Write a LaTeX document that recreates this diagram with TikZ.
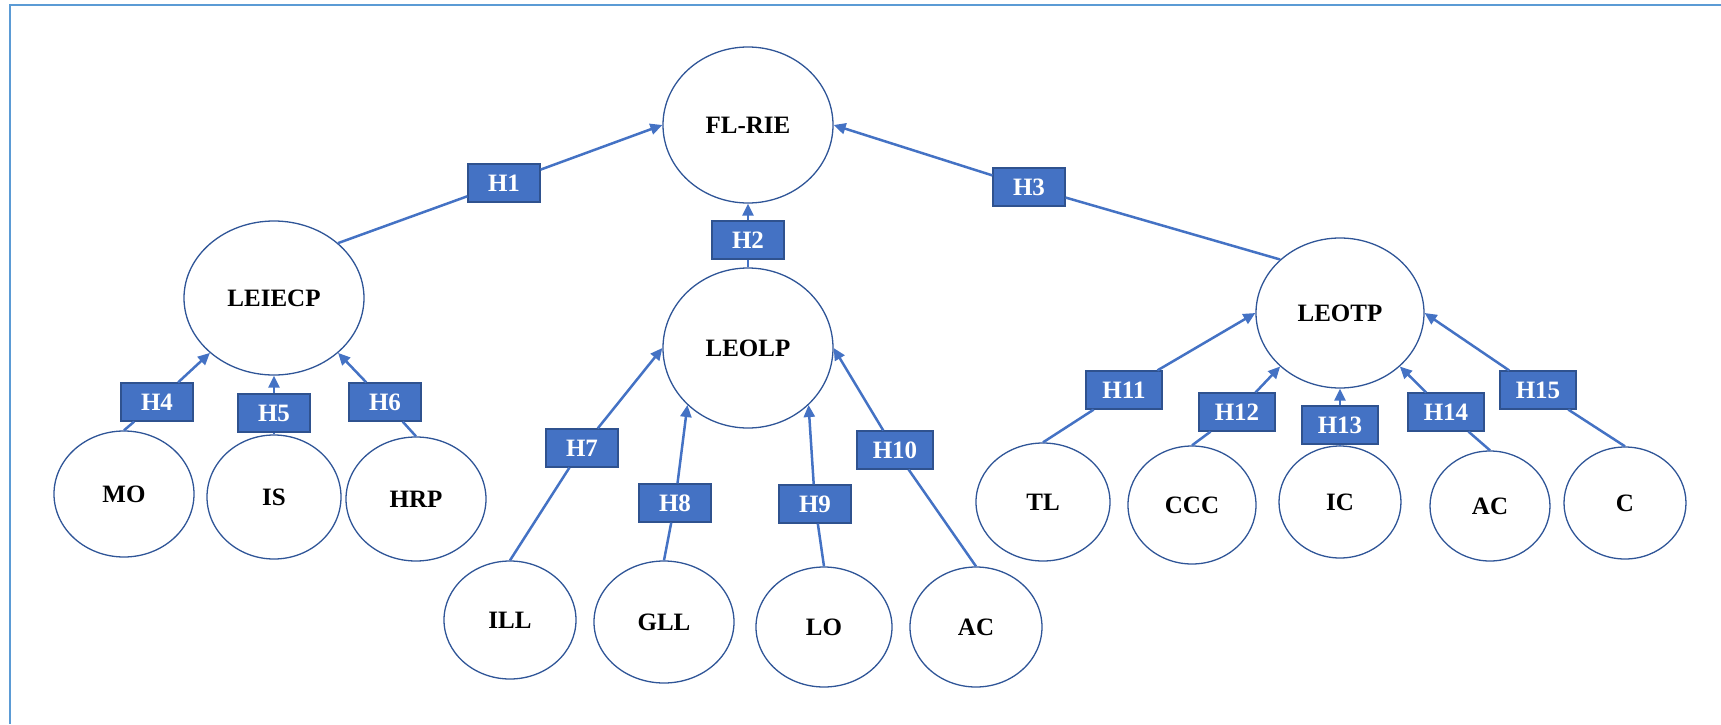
\documentclass[tikz,border=0pt]{standalone}
\usepackage{fontspec}
\setmainfont{Liberation Serif}
\usetikzlibrary{shapes.geometric,arrows.meta}
\definecolor{edgeblue}{HTML}{4472C4}
\definecolor{ringblue}{HTML}{2F5597}
\definecolor{boxline}{HTML}{2F528F}
\definecolor{frameblue}{HTML}{5B9BD5}
\begin{document}
\begin{tikzpicture}[x=0.5pt,y=-0.5pt,
  var/.style={ellipse,draw=ringblue,line width=0.65pt,inner sep=0pt,font=\fontsize{12.5}{14}\selectfont\bfseries},
  hyp/.style={rectangle,draw=boxline,line width=0.6pt,fill=edgeblue,text=white,inner sep=0pt,minimum height=19pt,minimum width=36pt,font=\fontsize{12.5}{14}\selectfont\bfseries},
  hypw/.style={hyp,minimum width=38pt},
  link/.style={draw=edgeblue,line width=1.25pt},
  arr/.style={link,-{Triangle[length=6pt,width=5.5pt]}}]
\useasboundingbox (0,0) rectangle (1721,724);
\draw[frameblue,line width=1pt] (1721,5) -- (10,5) -- (10,724);

% variables
\node[var,minimum width=85pt,minimum height=78pt] (fl) at (748,125) {FL-RIE};
\node[var,minimum width=90pt,minimum height=77pt] (leiecp) at (274,298) {LEIECP};
\node[var,minimum width=85pt,minimum height=80pt] (leolp) at (748,348) {LEOLP};
\node[var,minimum width=84pt,minimum height=75pt] (leotp) at (1340,313) {LEOTP};
\node[var,minimum width=70pt,minimum height=63pt] (mo) at (124,494) {MO};
\node[var,minimum width=67pt,minimum height=62pt] (is) at (274,497) {IS};
\node[var,minimum width=70pt,minimum height=62pt] (hrp) at (416,499) {HRP};
\node[var,minimum width=66pt,minimum height=59pt] (ill) at (510,620) {ILL};
\node[var,minimum width=70pt,minimum height=61pt] (gll) at (664,622) {GLL};
\node[var,minimum width=68pt,minimum height=60pt] (lo) at (824,627) {LO};
\node[var,minimum width=66pt,minimum height=60pt] (acm) at (976,627) {AC};
\node[var,minimum width=67pt,minimum height=59pt] (tl) at (1043,502) {TL};
\node[var,minimum width=64pt,minimum height=59pt] (ccc) at (1192,505) {CCC};
\node[var,minimum width=61pt,minimum height=56pt] (ic) at (1340,502) {IC};
\node[var,minimum width=60pt,minimum height=55pt] (acr) at (1490,506) {AC};
\node[var,minimum width=61pt,minimum height=56pt] (c) at (1625,503) {C};

% hypotheses
\node[hyp] (h1) at (504,183) {H1};
\node[hyp] (h2) at (748,240) {H2};
\node[hyp] (h3) at (1029,187) {H3};
\node[hyp] (h4) at (157,402) {H4};
\node[hyp] (h5) at (274,413) {H5};
\node[hyp] (h6) at (385,402) {H6};
\node[hyp] (h7) at (582,448) {H7};
\node[hyp] (h8) at (675,503) {H8};
\node[hyp] (h9) at (815,504) {H9};
\node[hypw] (h10) at (895,450) {H10};
\node[hypw] (h11) at (1124,390) {H11};
\node[hypw] (h12) at (1237,412) {H12};
\node[hypw] (h13) at (1340,425) {H13};
\node[hypw] (h14) at (1446,412) {H14};
\node[hypw] (h15) at (1538,390) {H15};

% connectors
\draw[link] (leiecp.north east) -- (h1); \draw[arr] (h1) -- (fl.west);
\draw[link] (leolp.north) -- (h2);       \draw[arr] (h2) -- (fl.south);
\draw[link] (leotp.north west) -- (h3);  \draw[arr] (h3) -- (fl.east);
\draw[link] (mo.north) -- (h4);   \draw[arr] (h4) -- (leiecp.south west);
\draw[link] (is.north) -- (h5);   \draw[arr] (h5) -- (leiecp.south);
\draw[link] (hrp.north) -- (h6);  \draw[arr] (h6) -- (leiecp.south east);
\draw[link] (ill.north) -- (h7);  \draw[arr] (h7) -- (leolp.west);
\draw[link] (gll.north) -- (h8);  \draw[arr] (h8) -- (leolp.south west);
\draw[link] (lo.north) -- (h9);   \draw[arr] (h9) -- (leolp.south east);
\draw[link] (acm.north) -- (h10); \draw[arr] (h10) -- (leolp.east);
\draw[link] (tl.north) -- (h11);  \draw[arr] (h11) -- (leotp.west);
\draw[link] (ccc.north) -- (h12); \draw[arr] (h12) -- (leotp.south west);
\draw[link] (ic.north) -- (h13);  \draw[arr] (h13) -- (leotp.south);
\draw[link] (acr.north) -- (h14); \draw[arr] (h14) -- (leotp.south east);
\draw[link] (c.north) -- (h15);   \draw[arr] (h15) -- (leotp.east);
\end{tikzpicture}
\end{document}
